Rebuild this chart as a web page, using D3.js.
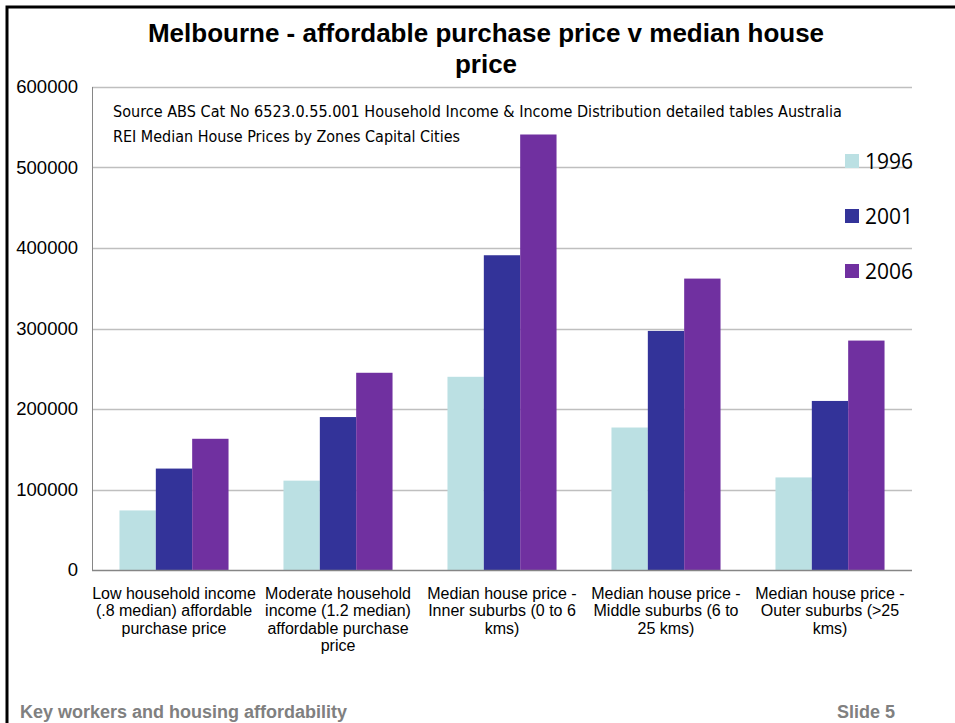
<!DOCTYPE html>
<html>
<head>
<meta charset="utf-8">
<script src="https://cdn.jsdelivr.net/npm/d3@7"></script>
<style>
  body { margin: 0; background: #fff; }
  svg { display: block; }
</style>
</head>
<body>
<div id="chart"></div>
<script>
// chart data
var categories = [
  ['Low household income', '(.8 median) affordable', 'purchase price'],
  ['Moderate household', 'income (1.2 median)', 'affordable purchase', 'price'],
  ['Median house price -', 'Inner suburbs (0 to 6', 'kms)'],
  ['Median house price -', 'Middle suburbs (6 to', '25 kms)'],
  ['Median house price -', 'Outer suburbs (>25', 'kms)']
];
var seriesNames = ['1996', '2001', '2006'];
var values1996 = [74000, 111000, 240000, 177000, 115000];
var values2001 = [126000, 190000, 391000, 297000, 210000];
var values2006 = [163000, 245000, 541000, 362000, 285000];
var yTicks = [0, 100000, 200000, 300000, 400000, 500000, 600000];
var colors = ['#bbe0e3', '#333399', '#7030a0'];

var allValues = [values1996, values2001, values2006];

var W = 955, H = 723;
var margin = { top: 87, right: 43, bottom: 153, left: 92 },
  width = W - margin.left - margin.right,
  height = H - margin.top - margin.bottom;

var svg = d3.select('#chart')
  .append('svg')
  .attr('width', W)
  .attr('height', H);

// slide frame
svg.append('path')
  .attr('d', 'M7,' + H + 'V7H' + W)
  .attr('fill', 'none')
  .attr('stroke', '#000')
  .attr('stroke-width', 3);

// title
svg.append('text')
  .attr('text-anchor', 'middle')
  .style('font-family', 'Liberation Sans, Arial, sans-serif')
  .style('font-weight', 'bold')
  .style('font-size', '26px')
  .selectAll('tspan')
  .data(['Melbourne - affordable purchase price v median house', 'price'])
  .enter()
  .append('tspan')
  .attr('x', 486)
  .attr('y', function(d, i) { return 42 + i * 31; })
  .text(function(d) { return d; });

var g = svg.append('g')
  .attr('transform', 'translate(' + margin.left + ',' + margin.top + ')');

var x0 = d3.scaleBand()
  .domain(d3.range(categories.length))
  .range([0, width])
  .paddingInner(0.335)
  .paddingOuter(0.1675);

var x1 = d3.scaleBand()
  .domain(d3.range(seriesNames.length))
  .range([0, x0.bandwidth()]);

var y = d3.scaleLinear()
  .domain([0, 600000])
  .range([height, 0]);

// gridlines
g.append('g')
  .selectAll('line')
  .data(yTicks.slice(1))
  .enter()
  .append('line')
  .attr('x1', 0)
  .attr('x2', width)
  .attr('y1', function(d) { return Math.round(y(d)) + 0.5; })
  .attr('y2', function(d) { return Math.round(y(d)) + 0.5; })
  .attr('stroke', '#bfbfbf')
  .attr('stroke-width', 1.5);

// left axis line
g.append('line')
  .attr('x1', 0.5).attr('x2', 0.5)
  .attr('y1', 0).attr('y2', height)
  .attr('stroke', '#868686');

// y tick labels
g.append('g')
  .selectAll('text')
  .data(yTicks)
  .enter()
  .append('text')
  .attr('x', -14)
  .attr('y', function(d) { return y(d) + 6; })
  .attr('text-anchor', 'end')
  .style('font-family', 'Liberation Sans, Arial, sans-serif')
  .style('font-size', '18.5px')
  .text(function(d) { return d; });

// bars
var groups = g.selectAll('.grp')
  .data(categories.map(function(c, i) { return i; }))
  .enter()
  .append('g')
  .attr('class', 'grp')
  .attr('transform', function(i) { return 'translate(' + x0(i) + ',0)'; });

groups.selectAll('rect')
  .data(function(i) {
    return seriesNames.map(function(s, k) { return { k: k, v: allValues[k][i] }; });
  })
  .enter()
  .append('rect')
  .attr('x', function(d) { return x1(d.k); })
  .attr('width', x1.bandwidth())
  .attr('y', function(d) { return y(d.v); })
  .attr('height', function(d) { return height - y(d.v); })
  .attr('fill', function(d) { return colors[d.k]; });

// baseline
g.append('line')
  .attr('x1', 0).attr('x2', width)
  .attr('y1', height + 0.5).attr('y2', height + 0.5)
  .attr('stroke', '#868686')
  .attr('stroke-width', 1.5);

// category labels
var labels = g.append('g')
  .selectAll('text')
  .data(categories)
  .enter()
  .append('text')
  .attr('text-anchor', 'middle')
  .style('font-family', 'Liberation Sans, Arial, sans-serif')
  .style('font-size', '16px');

labels.each(function(lines, i) {
  d3.select(this).selectAll('tspan')
    .data(lines)
    .enter()
    .append('tspan')
    .attr('x', x0(i) + x0.bandwidth() / 2)
    .attr('y', function(d, j) { return height + 29 + j * 17.3; })
    .text(function(d) { return d; });
});

// source note
svg.append('g')
  .style('font-family', 'DejaVu Sans Condensed, Open Sans, sans-serif')
  .style('font-size', '15px')
  .selectAll('text')
  .data([
    'Source ABS Cat No 6523.0.55.001 Household Income & Income Distribution detailed tables Australia',
    'REI Median House Prices by Zones Capital Cities'
  ])
  .enter()
  .append('text')
  .attr('x', 113)
  .attr('y', function(d, i) { return 117 + i * 25; })
  .attr('textLength', function(d, i) { return i === 0 ? 729 : 347; })
  .attr('lengthAdjust', 'spacingAndGlyphs')
  .text(function(d) { return d; });

// legend
var legend = svg.append('g')
  .selectAll('g')
  .data(seriesNames)
  .enter()
  .append('g')
  .attr('transform', function(d, i) { return 'translate(845,' + (161 + i * 55) + ')'; });

legend.append('rect')
  .attr('x', 0)
  .attr('y', -7)
  .attr('width', 14)
  .attr('height', 14)
  .attr('fill', function(d, i) { return colors[i]; });

legend.append('text')
  .attr('x', 20)
  .attr('y', 8)
  .style('font-family', 'Open Sans, sans-serif')
  .style('font-size', '21px')
  .text(function(d) { return d; });

// footer
var footer = svg.append('g')
  .style('font-family', 'Liberation Sans, Arial, sans-serif')
  .style('font-weight', 'bold')
  .style('font-size', '18px')
  .attr('fill', '#808080');

footer.append('text')
  .attr('x', 20)
  .attr('y', 718)
  .text('Key workers and housing affordability');

footer.append('text')
  .attr('x', 895)
  .attr('y', 718)
  .attr('text-anchor', 'end')
  .text('Slide 5');
</script>
</body>
</html>
